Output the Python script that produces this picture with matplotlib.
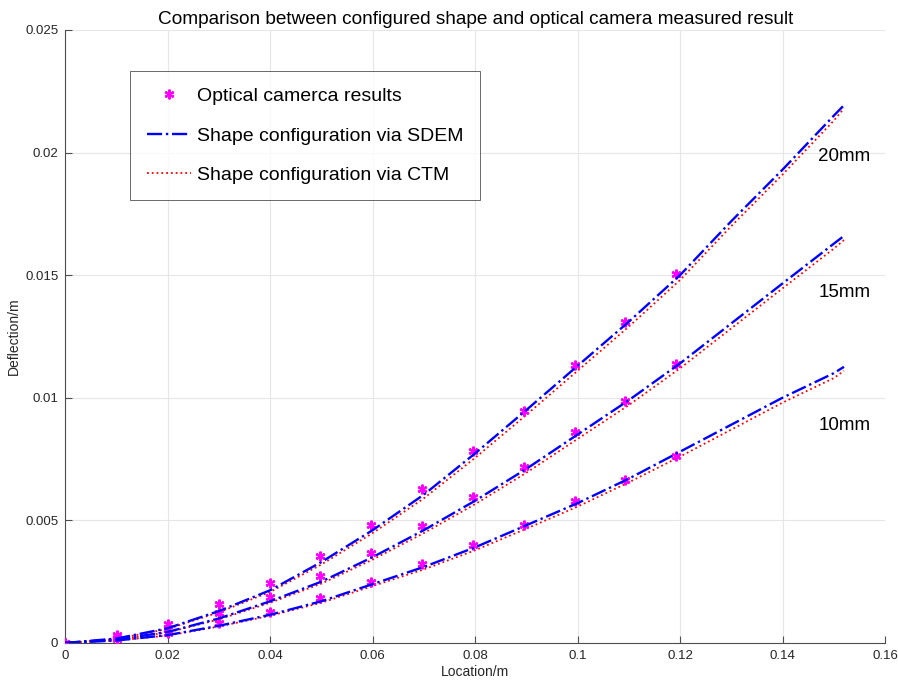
import numpy as np
import matplotlib
matplotlib.use("Agg")
import matplotlib.pyplot as plt

plt.rcParams['font.family'] = ['Liberation Sans', 'DejaVu Sans']

# measured points (optical camera)
cam_x = [0, 0.01, 0.02, 0.03, 0.04, 0.0498, 0.0597, 0.0697, 0.0796,
         0.0895, 0.0995, 0.1093, 0.1193]
cam_20 = [0, 0.00031, 0.00079, 0.00157, 0.00245, 0.00355, 0.00483, 0.00626,
          0.00783, 0.00947, 0.01133, 0.0131, 0.01503]
cam_15 = [0, 0.00022, 0.00056, 0.00122, 0.00188, 0.00272, 0.00365, 0.00475,
          0.00594, 0.00718, 0.0086, 0.00987, 0.01136]
cam_10 = [0, 0.00015, 0.0004, 0.00082, 0.00127, 0.00183, 0.00249, 0.00322,
          0.004, 0.0048, 0.00578, 0.00664, 0.00763]

# configured shapes
line_x = [0, 0.01, 0.02, 0.03, 0.04, 0.05, 0.06, 0.07, 0.08, 0.09, 0.1,
          0.11, 0.12, 0.13, 0.14, 0.15, 0.152]
sdem_20 = [0, 0.00018, 0.0006, 0.0013, 0.00215, 0.0033, 0.0046, 0.00605,
           0.00773, 0.0095, 0.0113, 0.0131, 0.0150, 0.0172, 0.0193, 0.0215, 0.02193]
sdem_15 = [0, 0.00014, 0.00045, 0.001, 0.0017, 0.0025, 0.0035, 0.0046,
           0.0058, 0.0071, 0.0085, 0.0099, 0.0114, 0.01303, 0.01466, 0.01628, 0.0166]
sdem_10 = [0, 0.0001, 0.00032, 0.0007, 0.00115, 0.0017, 0.0024, 0.0031,
           0.0039, 0.0048, 0.0057, 0.0067, 0.0078, 0.0089, 0.0100, 0.0110, 0.01126]
ctm_20 = [0, 0.00017, 0.00057, 0.00125, 0.00208, 0.0032, 0.00448, 0.0059,
          0.00755, 0.0093, 0.0111, 0.0129, 0.0148, 0.0170, 0.0191, 0.0213, 0.0218]
ctm_15 = [0, 0.00013, 0.00043, 0.00096, 0.00164, 0.00242, 0.0034, 0.00448,
          0.00566, 0.00694, 0.00832, 0.0097, 0.0112, 0.01283, 0.01446, 0.01608, 0.01643]
ctm_10 = [0, 0.0001, 0.0003, 0.00067, 0.00111, 0.00164, 0.00232, 0.003,
          0.00378, 0.00466, 0.00556, 0.00655, 0.0076, 0.0087, 0.0098, 0.0108, 0.0111]

labels = ['20mm', '15mm', '10mm']
label_y = [0.01982, 0.01431, 0.00888]

fig = plt.figure(figsize=(8.98, 6.8), dpi=100)
ax = fig.add_axes([0.0727, 0.0545, 0.9128, 0.9015])

sdem = [sdem_20, sdem_15, sdem_10]
ctm = [ctm_20, ctm_15, ctm_10]
cam = [cam_20, cam_15, cam_10]

for i in range(3):
    ax.plot(cam_x, cam[i], linestyle='none', marker=(6, 2, 0), markersize=7,
            markeredgewidth=1.6, color='#ff00ff',
            label='Optical camerca results' if i == 0 else None, zorder=3)
    ax.plot(line_x, sdem[i], linestyle='-.', color='#0000ff', linewidth=1.7,
            label='Shape configuration via SDEM' if i == 0 else None, zorder=4)
    ax.plot(line_x, ctm[i], linestyle=':', color='#ff0000', linewidth=1.3,
            label='Shape configuration via CTM' if i == 0 else None, zorder=2)
    ax.text(0.1521, label_y[i], labels[i], fontsize=13.5, ha='center',
            va='center', color='black')

ax.set_xlim(0, 0.16)
ax.set_ylim(0, 0.025)
ax.set_xticks(np.arange(0, 0.161, 0.02))
ax.set_xticklabels(['0', '0.02', '0.04', '0.06', '0.08', '0.1', '0.12', '0.14', '0.16'])
ax.set_yticks(np.arange(0, 0.0251, 0.005))
ax.set_yticklabels(['0', '0.005', '0.01', '0.015', '0.02', '0.025'])
ax.tick_params(direction='in', length=5, width=0.8, colors='#4d4d4d',
               labelsize=9.5, labelcolor='#262626', pad=5)
ax.grid(True, color='#e6e6e6', linewidth=0.8)
ax.set_axisbelow(True)
for side in ['top', 'right']:
    ax.spines[side].set_visible(False)
for side in ['left', 'bottom']:
    ax.spines[side].set_color('#4d4d4d')
    ax.spines[side].set_linewidth(0.8)

ax.set_xlabel('Location/m', fontsize=10, color='#262626', labelpad=2)
ax.set_ylabel('Deflection/m', fontsize=10, color='#262626', labelpad=3)
ax.set_title('Comparison between configured shape and optical camera measured result',
             fontsize=13.7, color='black', pad=4)

leg = ax.legend(loc='upper left', bbox_to_anchor=(0.079, 0.933), fontsize=14,
                frameon=True, fancybox=False, edgecolor='#262626',
                handlelength=2.3, handletextpad=0.3, labelspacing=1.12,
                borderpad=0.85, borderaxespad=0)
leg.get_frame().set_linewidth(0.6)

fig.savefig('out.png', dpi=100)
plt.close(fig)
